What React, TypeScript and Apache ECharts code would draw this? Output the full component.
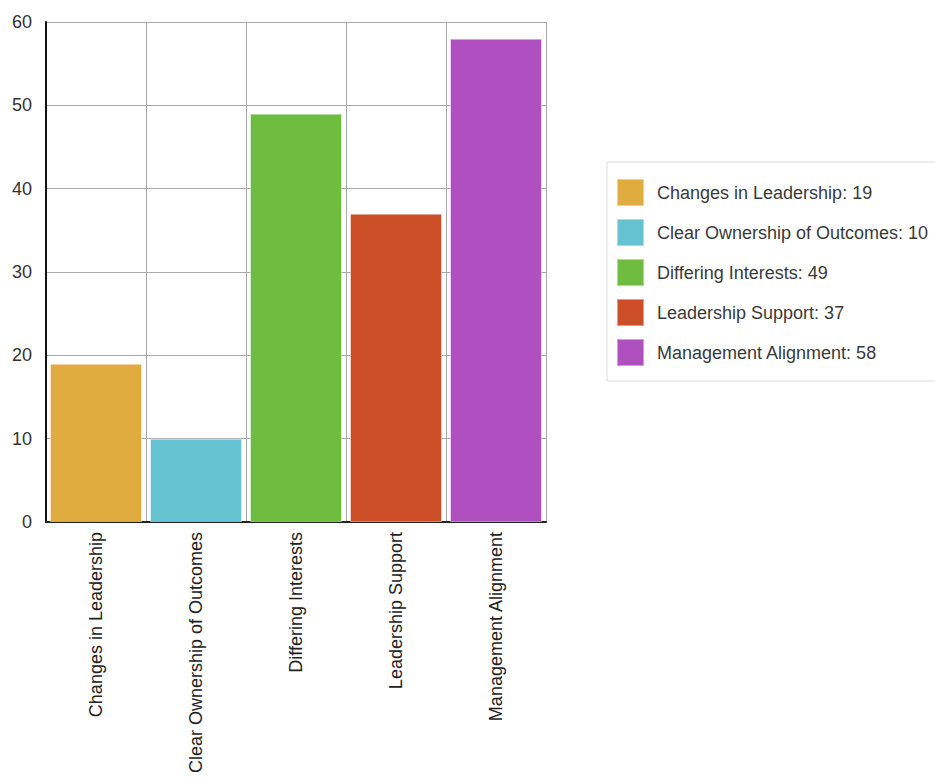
import React, { useEffect, useRef } from "react";
import * as echarts from "echarts";

const categories = [
  "Changes in Leadership",
  "Clear Ownership of Outcomes",
  "Differing Interests",
  "Leadership Support",
  "Management Alignment",
];
const values = [19, 10, 49, 37, 58];
const colors = ["#E0AC40", "#65C3D1", "#6EBD40", "#CC4E27", "#B04FC0"];
const yTicks = { min: 0, max: 60, interval: 10 };

const FONT = "'Liberation Sans', Arial, sans-serif";
const FONT_SIZE = 18;

export default function App() {
  const ref = useRef<HTMLDivElement>(null);

  useEffect(() => {
    if (!ref.current) return;
    const chart = echarts.init(ref.current, undefined, { renderer: "svg" });

    // one stacked series per category so each bar gets its own legend entry
    const series = categories.map((name, i) => ({
      name,
      type: "bar" as const,
      stack: "all",
      barCategoryGap: "8%",
      data: categories.map((_, j) => (j === i ? values[i] : "-")),
      itemStyle: {
        color: colors[i],
        borderColor: "rgba(255,255,255,0.45)",
        borderWidth: 1,
      },
    }));

    chart.setOption({
      animation: false,
      color: colors,
      textStyle: { fontFamily: FONT },
      grid: { left: 46, top: 22, width: 500, height: 500 },
      legend: {
        orient: "vertical",
        left: 607,
        top: 162,
        padding: [16, 12, 14, 9],
        itemGap: 11,
        itemWidth: 27,
        itemHeight: 27,
        icon: "rect",
        borderColor: "#dcdcdc",
        borderWidth: 1,
        backgroundColor: "#fff",
        textStyle: {
          fontSize: FONT_SIZE,
          lineHeight: 20,
          color: "#3a3a3a",
          fontFamily: FONT,
          padding: [0, 0, 0, 8],
        },
        formatter: (name: string) => `${name}: ${values[categories.indexOf(name)]}`,
        data: categories,
      },
      xAxis: {
        type: "category",
        data: categories,
        axisLine: { show: true, lineStyle: { color: "#222", width: 2 } },
        axisTick: { show: false },
        splitLine: { show: true, lineStyle: { color: "#a8a8a8", width: 1 } },
        axisLabel: {
          rotate: 90,
          interval: 0,
          margin: 10,
          fontSize: FONT_SIZE,
          color: "#222",
          fontFamily: FONT,
        },
      },
      yAxis: {
        type: "value",
        min: yTicks.min,
        max: yTicks.max,
        interval: yTicks.interval,
        axisLine: { show: true, lineStyle: { color: "#111", width: 2 } },
        axisTick: { show: false },
        splitLine: { show: true, lineStyle: { color: "#a8a8a8", width: 1 } },
        axisLabel: { margin: 14, fontSize: FONT_SIZE, color: "#333", fontFamily: FONT },
      },
      series,
    });

    return () => chart.dispose();
  }, []);

  return (
    <div
      ref={ref}
      style={{ position: "absolute", left: 0, top: 0, width: 935, height: 778, background: "#fff" }}
    />
  );
}
